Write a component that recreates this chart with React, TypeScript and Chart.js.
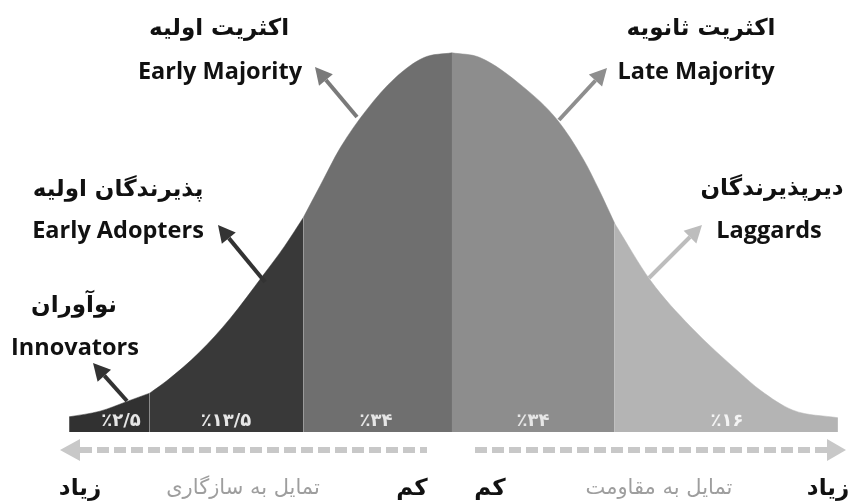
import React, { useEffect, useRef } from "react";
import { Chart, registerables } from "chart.js";

Chart.register(...registerables);

// ---- data ----
// curve position (in standard-deviation-like units) and curve height (density-like)
const curveX = [-2.47, -2.27, -2.1, -1.95, -1.84, -1.63, -1.43, -1.22, -1.08, -0.96, -0.85, -0.72, -0.55, -0.37, -0.18, 0, 0.18, 0.46, 0.68, 0.85, 0.95, 1.05, 1.28, 1.54, 1.86, 1.99, 2.2, 2.49];
const curveY = [0.016, 0.022, 0.032, 0.041, 0.054, 0.084, 0.12, 0.165, 0.196, 0.226, 0.26, 0.3, 0.34, 0.373, 0.395, 0.4, 0.395, 0.364, 0.329, 0.287, 0.255, 0.22, 0.16, 0.111, 0.062, 0.044, 0.023, 0.015];
const segmentBounds = [-2.47, -1.95, -0.96, 0, 1.05, 2.49];
const segmentPercents = ["٪۲/۵", "٪۱۳/۵", "٪۳۴", "٪۳۴", "٪۱۶"];
const groupNamesFa = ["نوآوران", "پذیرندگان اولیه", "اکثریت اولیه", "اکثریت ثانویه", "دیرپذیرندگان"];
const groupNamesEn = ["Innovators", "Early Adopters", "Early Majority", "Late Majority", "Laggards"];
const axisLabels = ["زیاد", "تمایل به سازگاری", "کم", "کم", "تمایل به مقاومت", "زیاد"];

// ---- styles / layout ----
const segmentColors = ["#313131", "#393939", "#6f6f6f", "#8d8d8d", "#b4b4b4"];
const arrowColors = ["#333333", "#333333", "#7a7a7a", "#8e8e8e", "#bdbdbd"];
const X_MIN = -2.916;
const X_MAX = 2.555;
const Y_MAX = 0.4557;

// label layout in pixels: [faX, faY, enX, enY]
const labelPos = [
  [74, 306, 75, 348],
  [118, 190, 118, 231],
  [219, 29, 220, 72],
  [701, 29, 696, 72],
  [772, 189, 769, 231],
];
// arrows: [fromX, fromY, tipX, tipY]
const arrowPos = [
  [127, 401, 93, 363],
  [265, 282, 218, 225],
  [357, 117, 315, 67],
  [559, 120, 607, 68],
  [649, 278, 702, 225],
];
const percentPos = [121, 226, 376, 533, 727];
const bottomTextX = [80, 243, 412, 490, 659, 828];

function drawArrow(ctx: CanvasRenderingContext2D, x1: number, y1: number, x2: number, y2: number, color: string) {
  const ang = Math.atan2(y2 - y1, x2 - x1);
  const head = 17;
  const half = 9;
  const bx = x2 - head * Math.cos(ang);
  const by = y2 - head * Math.sin(ang);
  ctx.save();
  ctx.strokeStyle = color;
  ctx.fillStyle = color;
  ctx.lineWidth = 4;
  ctx.beginPath();
  ctx.moveTo(x1, y1);
  ctx.lineTo(bx, by);
  ctx.stroke();
  ctx.beginPath();
  ctx.moveTo(x2, y2);
  ctx.lineTo(bx + half * Math.sin(ang), by - half * Math.cos(ang));
  ctx.lineTo(bx - half * Math.sin(ang), by + half * Math.cos(ang));
  ctx.closePath();
  ctx.fill();
  ctx.restore();
}

const annotationPlugin = {
  id: "bellAnnotations",
  afterDraw(chart: any) {
    const ctx: CanvasRenderingContext2D = chart.ctx;
    ctx.save();
    // percent labels inside the band
    ctx.direction = "ltr";
    ctx.textAlign = "center";
    ctx.textBaseline = "middle";
    ctx.font = "bold 18px 'DejaVu Sans'";
    segmentPercents.forEach((t, i) => {
      ctx.fillStyle = i === 4 ? "#f4f4f4" : "#e6e6e6";
      ctx.fillText(t, percentPos[i], 421);
    });

    // arrows
    arrowPos.forEach((a, i) => drawArrow(ctx, a[0], a[1], a[2], a[3], arrowColors[i]));

    // group labels
    ctx.fillStyle = "#111111";
    groupNamesFa.forEach((t, i) => {
      ctx.direction = "rtl";
      ctx.textAlign = "center";
      ctx.font = "bold 23px 'DejaVu Sans'";
      ctx.fillText(t, labelPos[i][0], labelPos[i][1]);
      ctx.direction = "ltr";
      ctx.font = "bold 23.5px 'Open Sans'";
      ctx.fillText(groupNamesEn[i], labelPos[i][2], labelPos[i][3]);
    });

    // dashed direction arrows
    const yA = 450;
    ctx.strokeStyle = "#c8c8c8";
    ctx.fillStyle = "#c8c8c8";
    ctx.lineWidth = 6;
    ctx.setLineDash([12, 5]);
    ctx.beginPath();
    ctx.moveTo(80, yA);
    ctx.lineTo(427, yA);
    ctx.moveTo(475, yA);
    ctx.lineTo(828, yA);
    ctx.stroke();
    ctx.setLineDash([]);
    ctx.beginPath();
    ctx.moveTo(60, yA);
    ctx.lineTo(80, yA - 11);
    ctx.lineTo(80, yA + 11);
    ctx.closePath();
    ctx.fill();
    ctx.beginPath();
    ctx.moveTo(846, yA);
    ctx.lineTo(827, yA - 11);
    ctx.lineTo(827, yA + 11);
    ctx.closePath();
    ctx.fill();

    // bottom texts
    ctx.direction = "rtl";
    ctx.textAlign = "center";
    axisLabels.forEach((t, i) => {
      const isSub = i === 1 || i === 4;
      ctx.font = isSub ? "21px 'DejaVu Sans'" : "bold 23px 'DejaVu Sans'";
      ctx.fillStyle = isSub ? "#9e9e9e" : "#111111";
      ctx.fillText(t, bottomTextX[i], 489);
    });
    ctx.restore();
  },
};

export default function App() {
  const canvasRef = useRef<HTMLCanvasElement | null>(null);

  useEffect(() => {
    document.body.style.margin = "0";
    const canvas = canvasRef.current;
    if (!canvas) return;
    const points = curveX.map((x, i) => ({ x, y: curveY[i] }));
    const datasets = segmentColors.map((color, i) => ({
      label: groupNamesEn[i],
      data: points.filter((p) => p.x >= segmentBounds[i] && p.x <= segmentBounds[i + 1]),
      backgroundColor: color,
      borderColor: color,
      borderWidth: 0.5,
      fill: "origin",
      pointRadius: 0,
      cubicInterpolationMode: "monotone" as const,
    }));
    const chart = new Chart(canvas, {
      type: "line",
      data: { datasets },
      options: {
        responsive: false,
        animation: false,
        layout: { padding: { left: 0, right: 0, top: 0, bottom: 72 } },
        plugins: { legend: { display: false }, tooltip: { enabled: false } },
        scales: {
          x: { type: "linear", display: false, min: X_MIN, max: X_MAX },
          y: { type: "linear", display: false, min: 0, max: Y_MAX },
        },
      },
      plugins: [annotationPlugin],
    });
    return () => chart.destroy();
  }, []);

  return (
    <div style={{ width: 848, height: 504, background: "#ffffff" }}>
      <canvas ref={canvasRef} width={848} height={504} style={{ display: "block" }} />
    </div>
  );
}
